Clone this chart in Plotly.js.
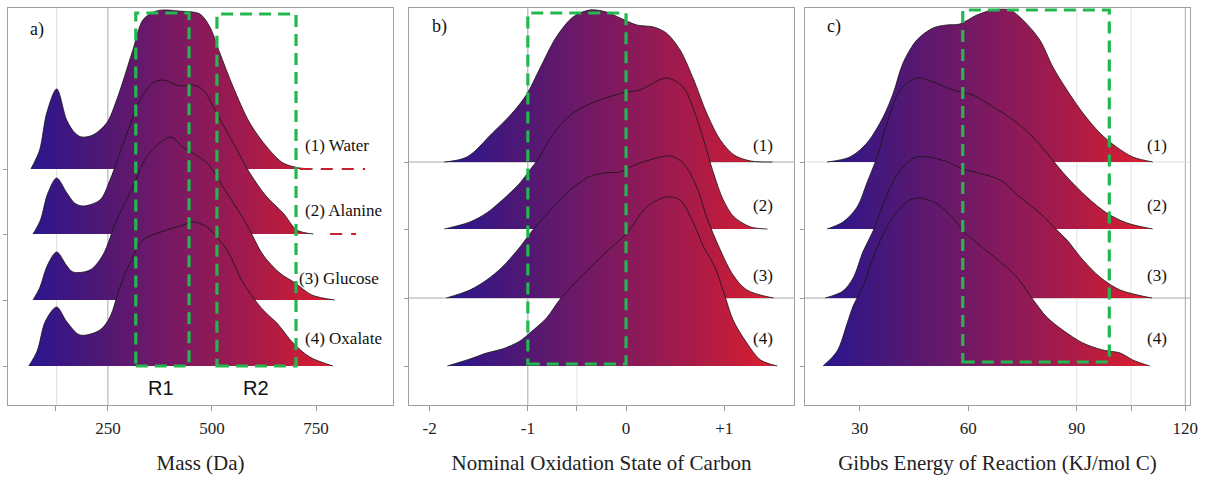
<!DOCTYPE html>
<html><head><meta charset="utf-8">
<script src="https://cdn.plot.ly/plotly-3.0.1.min.js"></script>
<style>html,body{margin:0;padding:0;background:#fff}</style>
</head><body>
<div id="chart" style="width:1212px;height:479px"></div>
<script>
// ---------- Panel a: Mass (Da) ----------
const waterMass   = [65, 86, 103, 127, 151, 171, 187, 214, 247, 271, 310, 334, 360, 382, 420, 471, 495, 519, 551, 591, 632, 671, 711, 743];
const waterDens   = [0, 19, 56, 80, 49, 36, 32, 34, 46, 69, 119, 149, 157, 159, 158, 155, 142, 116, 82, 46, 22, 6, 1, 0];
const alanineMass = [70, 88, 105, 127, 150, 170, 190, 231, 255, 296, 327, 358, 383, 423, 455, 479, 511, 551, 591, 632, 671, 704, 744];
const alanineDens = [0, 14, 40, 56, 42, 31, 28, 34, 54, 101, 134, 151, 154, 148, 149, 144, 121, 91, 61, 37, 21, 4, 0];
const glucoseMass = [70, 86, 105, 127, 150, 166, 207, 238, 271, 310, 343, 399, 430, 488, 536, 584, 623, 663, 700, 740, 795];
const glucoseDens = [0, 12, 35, 48, 35, 28, 30, 45, 80, 113, 143, 163, 153, 137, 107, 75, 45, 27, 17, 5, 0];
const oxalateMass = [60, 80, 100, 127, 150, 183, 231, 255, 279, 310, 334, 392, 431, 455, 488, 536, 575, 623, 656, 695, 735, 791];
const oxalateDens = [0, 15, 45, 59, 45, 31, 36, 49, 79, 109, 126, 136, 141, 144, 139, 116, 83, 56, 43, 23, 9, 0];
const waterTail   = [711, 868];
const alanineTail = [784, 846];
const labelsA     = ['(1) Water', '(2) Alanine', '(3) Glucose', '(4) Oxalate'];
const offsetsA    = [197, 132, 66, 0];
const boxR1       = [317, 445];
const boxR2       = [512, 702];
const regionNames = ['R1', 'R2'];
const regionLabelX = [377, 606];
const ticksA      = [125, 250, 500, 750];
const tickTextA   = ['', '250', '500', '750'];

// ---------- Panel b: Nominal oxidation state of carbon ----------
const b1Osc = [-1.85, -1.62, -1.36, -1.15, -1.01, -0.88, -0.71, -0.54, -0.37, -0.2, -0.06, 0.11, 0.28, 0.41, 0.55, 0.69, 0.82, 0.96, 1.1, 1.27, 1.49];
const b1Den = [0, 5, 29, 50, 68, 93, 125, 145, 152, 150, 144, 137, 135, 129, 112, 82, 49, 22, 7, 1, 0];
const b2Osc = [-1.85, -1.59, -1.42, -1.26, -1.08, -0.98, -0.88, -0.75, -0.54, -0.27, 0.01, 0.14, 0.41, 0.58, 0.69, 0.79, 0.89, 0.99, 1.1, 1.27, 1.44];
const b2Den = [0, 7, 16, 29, 46, 59, 72, 94, 116, 129, 137, 139, 151, 142, 119, 89, 56, 29, 12, 2, 0];
const b3Osc = [-1.83, -1.59, -1.42, -1.26, -1.08, -0.95, -0.74, -0.57, -0.4, -0.23, -0.06, 0.04, 0.24, 0.45, 0.58, 0.72, 0.82, 0.96, 1.09, 1.23, 1.5];
const b3Den = [0, 8, 18, 31, 51, 68, 91, 108, 120, 125, 126, 131, 138, 142, 135, 111, 81, 48, 23, 8, 0];
const b4Osc = [-1.82, -1.59, -1.42, -1.26, -1.08, -0.98, -0.81, -0.67, -0.4, -0.19, 0.01, 0.21, 0.41, 0.55, 0.69, 0.79, 0.9, 1.01, 1.09, 1.23, 1.37, 1.54];
const b4Den = [0, 7, 13, 17, 25, 33, 48, 67, 95, 115, 133, 159, 169, 166, 142, 119, 100, 69, 46, 23, 6, 0];
const labelsB  = ['(1)', '(2)', '(3)', '(4)'];
const offsetsB = [204, 137, 68, 0];
const boxB     = [-1, 0];
const ticksB   = [-2, -1, -0.5, 0, 1];
const tickTextB = ['-2', '-1', '', '0', '+1'];

// ---------- Panel c: Gibbs energy of reaction ----------
const c1G = [21, 27.3, 32, 36.5, 39.3, 42, 45.8, 50.3, 54, 57.7, 62.4, 66.9, 71.5, 75.1, 79.8, 83.4, 87.3, 91.7, 96.4, 101, 105.5, 111];
const c1D = [0, 5, 19, 45, 69, 99, 122, 134, 137, 138, 147, 152, 152, 142, 122, 95, 72, 49, 29, 15, 5, 0];
const c2G = [21, 25.4, 29.3, 32, 34.8, 37.5, 41.2, 45.8, 50.3, 55.8, 61.3, 66.9, 72.4, 77.9, 82.6, 87.3, 92.8, 98.3, 103.9, 111];
const c2D = [0, 7, 22, 46, 72, 105, 139, 151, 147, 139, 134, 122, 109, 92, 72, 52, 32, 16, 6, 0];
const c3G = [20.5, 25.4, 28.2, 31, 33.7, 36.5, 41, 45.8, 53.6, 58.3, 62.9, 68.8, 74.3, 79.8, 84.5, 87.3, 91.7, 96.4, 102, 110.8];
const c3D = [0, 7, 20, 47, 67, 94, 127, 141, 137, 129, 125, 118, 101, 85, 68, 58, 38, 21, 8, 0];
const c4G = [19.9, 23.8, 26.5, 28.2, 31, 33.8, 37.5, 40.5, 43.9, 46.7, 51.4, 55.8, 58.6, 64.1, 69.6, 73.4, 78, 81.7, 86.1, 91.7, 97.2, 102, 105.5, 110.2];
const c4D = [0, 15, 42, 60, 80, 109, 139, 155, 166, 168, 162, 148, 135, 118, 102, 89, 66, 49, 36, 23, 16, 13, 6, 0];
const labelsC  = ['(1)', '(2)', '(3)', '(4)'];
const offsetsC = [204, 137, 68, 0];
const boxC     = [58.5, 99];
const ticksC   = [30, 60, 90, 105, 120];
const tickTextC = ['30', '60', '90', '', '120'];

// ---------- styling ----------
const SERIF = 'Liberation Serif, Times New Roman, serif';
const GRAD = [[0, '#29168e'], [0.25, '#521873'], [0.5, '#7e1960'], [0.75, '#aa1b47'], [1, '#de1e2c']];
const GREEN = '#22b84f';

const traces = [];
function ridge(xs, ds, off, xa, ya, g0, g1) {
  traces.push({
    x: xs, y: ds.map(d => d + off), xaxis: xa, yaxis: ya,
    type: 'scatter', mode: 'lines', fill: 'toself',
    fillgradient: {type: 'horizontal', colorscale: GRAD, start: g0, stop: g1},
    line: {color: '#151515', width: 0.8, shape: 'spline', smoothing: 0.9},
    hoverinfo: 'skip', showlegend: false
  });
}
function tail(xs, off, xa, ya) {
  traces.push({
    x: xs, y: xs.map(() => off), xaxis: xa, yaxis: ya, type: 'scatter', mode: 'lines',
    line: {color: '#c8202e', width: 2, dash: '12px,9px'}, hoverinfo: 'skip', showlegend: false
  });
}

const aX = [waterMass, alanineMass, glucoseMass, oxalateMass];
const aD = [waterDens, alanineDens, glucoseDens, oxalateDens];
aX.forEach((xs, i) => ridge(xs, aD[i], offsetsA[i], 'x', 'y', 60, 800));
tail(waterTail, offsetsA[0], 'x', 'y');
tail(alanineTail, offsetsA[1], 'x', 'y');

const bX = [b1Osc, b2Osc, b3Osc, b4Osc];
const bD = [b1Den, b2Den, b3Den, b4Den];
bX.forEach((xs, i) => ridge(xs, bD[i], offsetsB[i], 'x2', 'y2', -1.85, 1.55));

const cX = [c1G, c2G, c3G, c4G];
const cD = [c1D, c2D, c3D, c4D];
cX.forEach((xs, i) => ridge(xs, cD[i], offsetsC[i], 'x3', 'y3', 20, 111));

// ---------- shapes ----------
const shapes = [];
function vline(xr, yr, v, col) {
  shapes.push({type: 'line', xref: xr, yref: yr + ' domain', x0: v, x1: v, y0: 0, y1: 1,
    line: {color: col, width: 1}, layer: 'below'});
}
function hline(xr, yr, v, col) {
  shapes.push({type: 'line', xref: xr + ' domain', yref: yr, x0: 0, x1: 1, y0: v, y1: v,
    line: {color: col, width: 1}, layer: 'below'});
}
function box(xr, yr, xs, y0, y1) {
  shapes.push({type: 'rect', xref: xr, yref: yr, x0: xs[0], x1: xs[1], y0: y0, y1: y1,
    line: {color: GREEN, width: 3.2, dash: '12px,7px'}, fillcolor: 'rgba(0,0,0,0)', layer: 'above'});
}
vline('x', 'y', 127, '#dddddd');
vline('x', 'y', 250, '#a8a8a8');
vline('x2', 'y2', -1, '#a8a8a8');
vline('x2', 'y2', -0.5, '#e2e2e2');
hline('x2', 'y2', offsetsB[0], '#a8a8a8');
hline('x2', 'y2', offsetsB[2], '#a8a8a8');
vline('x3', 'y3', 90, '#e2e2e2');
vline('x3', 'y3', 105, '#e2e2e2');
vline('x3', 'y3', 120, '#a8a8a8');
hline('x3', 'y3', offsetsC[0], '#dddddd');
hline('x3', 'y3', offsetsC[2], '#a8a8a8');
box('x', 'y', boxR1, 0, 353);
box('x', 'y', boxR2, 0, 352);
box('x2', 'y2', boxB, 2, 353);
box('x3', 'y3', boxC, 4, 356);

// ---------- annotations ----------
const ann = [];
function txt(xr, yr, x, y, t, anchor, size, fam) {
  ann.push({xref: xr, yref: yr, x: x, y: y, text: t, showarrow: false, xanchor: anchor, yanchor: 'middle',
    font: {family: fam || SERIF, size: size, color: '#111'}});
}
const labYA = [221, 156, 88, 28];
labelsA.forEach((t, i) => txt('x', 'y', i === 2 ? 704 : 719, labYA[i], t, 'left', 17));
const labYB = [221, 161, 91, 28];
labelsB.forEach((t, i) => txt('x2', 'y2', 1.52, labYB[i], t, 'right', 17));
labelsC.forEach((t, i) => txt('x3', 'y3', 115.5, labYB[i], t, 'right', 17));
txt('paper', 'paper', 28 / 1212, 1 - 30 / 479, 'a)', 'left', 18);
txt('paper', 'paper', 430 / 1212, 1 - 26 / 479, 'b)', 'left', 18);
txt('paper', 'paper', 825 / 1212, 1 - 26 / 479, 'c)', 'left', 18);
regionNames.forEach((t, i) => txt('x', 'y', regionLabelX[i], -22, t, 'center', 20, 'Liberation Sans, Arial, sans-serif'));

// ---------- axes ----------
const ydom = [1 - 405 / 479, 1 - 8 / 479];
function xax(dom, range, tv, tt, title) {
  return {domain: dom, range: range, tickvals: tv, ticktext: tt, ticks: 'outside', ticklen: 5,
    tickcolor: '#999', showline: true, mirror: true, linecolor: '#a0a0a0', linewidth: 1.3,
    showgrid: false, zeroline: false, fixedrange: true, ticklabelstandoff: 2,
    tickfont: {family: SERIF, size: 17, color: '#222'},
    title: {text: title, font: {family: SERIF, size: 21, color: '#222'}, standoff: 18}};
}
function yax(off, anchor) {
  return {domain: ydom, range: [-39, 358], tickvals: off, ticks: 'outside', ticklen: 4, tickcolor: '#999',
    showticklabels: false, showline: true, mirror: true, linecolor: '#a0a0a0', linewidth: 1.3,
    showgrid: false, zeroline: false, fixedrange: true, anchor: anchor};
}
const layout = {
  width: 1212, height: 479, margin: {l: 0, r: 0, t: 0, b: 0},
  paper_bgcolor: '#fff', plot_bgcolor: '#fff', showlegend: false,
  xaxis:  xax([8 / 1212, 393 / 1212], [10, 935], ticksA, tickTextA, 'Mass (Da)'),
  xaxis2: xax([409 / 1212, 794 / 1212], [-2.21, 1.71], ticksB, tickTextB, 'Nominal Oxidation State of Carbon'),
  xaxis3: xax([805 / 1212, 1190 / 1212], [14.9, 121.3], ticksC, tickTextC, 'Gibbs Energy of Reaction (KJ/mol C)'),
  yaxis:  yax(offsetsA, 'x'),
  yaxis2: yax(offsetsB, 'x2'),
  yaxis3: yax(offsetsC, 'x3'),
  shapes: shapes, annotations: ann
};
layout.xaxis.anchor = 'y'; layout.xaxis2.anchor = 'y2'; layout.xaxis3.anchor = 'y3';
Plotly.newPlot('chart', traces, layout, {staticPlot: true, displayModeBar: false});
</script>
</body></html>
